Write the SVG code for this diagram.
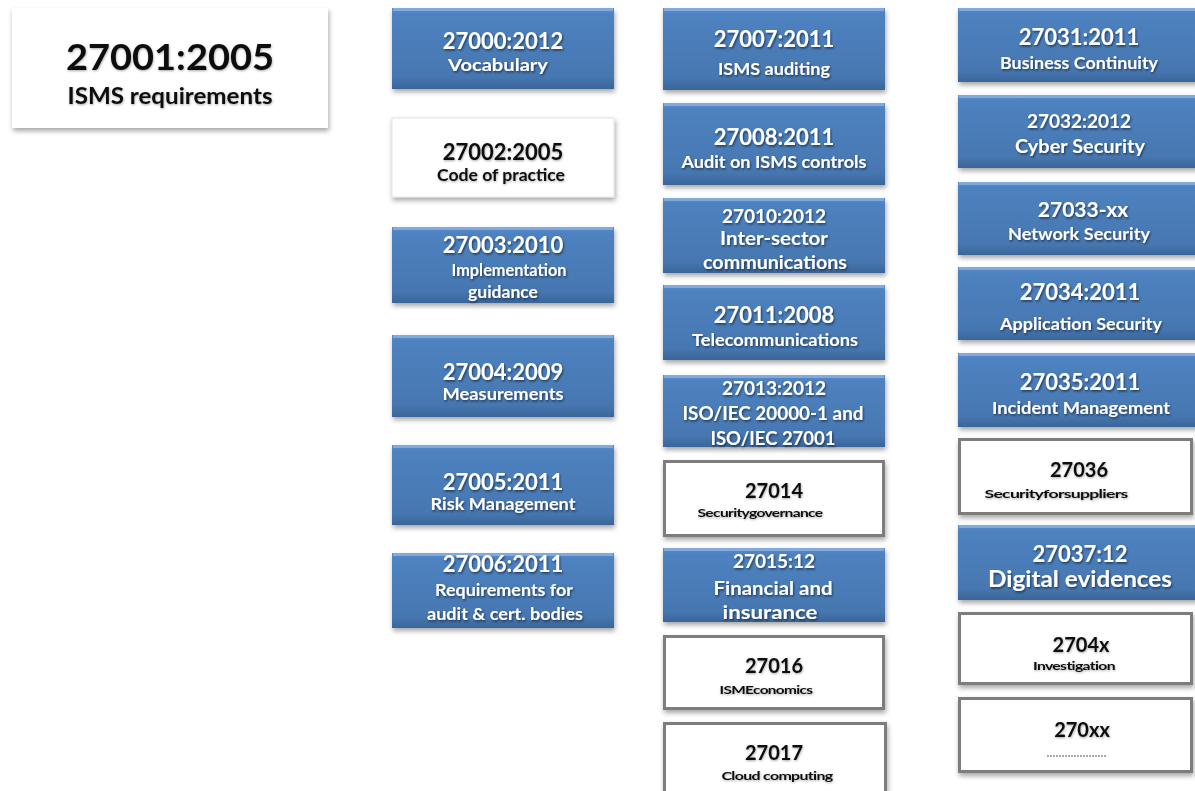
<svg xmlns="http://www.w3.org/2000/svg" width="1195" height="791" viewBox="0 0 1195 791">
<defs>
<linearGradient id="gb" x1="0" y1="0" x2="0" y2="1">
<stop offset="0" stop-color="#5a8dc8"/>
<stop offset="0.08" stop-color="#4e82c0"/>
<stop offset="0.85" stop-color="#4677b1"/>
<stop offset="1" stop-color="#3a6598"/>
</linearGradient>
<filter id="sh" x="-10%" y="-10%" width="125%" height="140%">
<feDropShadow dx="1" dy="3" stdDeviation="2.5" flood-color="#000" flood-opacity="0.35"/>
</filter>
<filter id="ts" x="-10%" y="-30%" width="120%" height="160%">
<feDropShadow dx="1" dy="1.5" stdDeviation="1" flood-color="#000" flood-opacity="0.55"/>
</filter>
<filter id="tsl" x="-10%" y="-30%" width="120%" height="160%">
<feDropShadow dx="0.5" dy="1" stdDeviation="0.8" flood-color="#000" flood-opacity="0.35"/>
</filter>
</defs>
<style>
text{font-family:Lato,"Liberation Sans",sans-serif;font-weight:700;text-anchor:middle}
.b{fill:url(#gb);filter:url(#sh)}
.hl{fill:#8db2df;opacity:0.8}
.w{fill:#fff;filter:url(#sh)}
.wb{fill:#fff;stroke:#7d7d7d;stroke-width:3;filter:url(#sh)}
.wl{fill:#fff;stroke:#e2e2e2;stroke-width:1;filter:url(#sh)}
.tw{fill:#fff;filter:url(#ts)}
.tk{fill:#111;filter:url(#tsl)}
.t22{font-size:22px}
.t19{font-size:19px}
.t20{font-size:20px}
.s16{font-size:17px}
.s17{font-size:17.5px}
.s18{font-size:18.5px}
.sm{font-size:12px;letter-spacing:-0.5px}
</style>
<rect width="1195" height="791" fill="#fff"/>

<g id="n27001">
<rect class="w" x="12" y="8" width="316" height="120"/>
<text class="tk" x="170" y="70" style="font-size:37px" textLength="208" lengthAdjust="spacingAndGlyphs">27001:2005</text>
<text class="tk" x="170" y="104" style="font-size:23px" textLength="205" lengthAdjust="spacingAndGlyphs">ISMS requirements</text>
</g>

<g id="n27000">
<rect class="b" x="392" y="8" width="222" height="81"/><rect class="hl" x="393" y="8" width="220" height="3"/>
<text class="tw t22" x="503" y="49">27000:2012</text>
<text class="tw s17" x="498" y="71" textLength="100" lengthAdjust="spacingAndGlyphs">Vocabulary</text>
</g>
<g id="n27002">
<rect class="wl" x="392" y="118" width="222" height="79"/>
<text class="tk t22" x="503" y="160">27002:2005</text>
<text class="tk s17" x="501" y="181" textLength="128" lengthAdjust="spacingAndGlyphs">Code of practice</text>
</g>
<g id="n27003">
<rect class="b" x="392" y="227" width="222" height="76"/><rect class="hl" x="393" y="227" width="220" height="3"/>
<text class="tw t22" x="503" y="253">27003:2010</text>
<text class="tw s17" x="509" y="276" textLength="115" lengthAdjust="spacingAndGlyphs">Implementation</text>
<text class="tw s17" x="503" y="298" textLength="70" lengthAdjust="spacingAndGlyphs">guidance</text>
</g>
<g id="n27004">
<rect class="b" x="392" y="335" width="222" height="82"/><rect class="hl" x="393" y="335" width="220" height="3"/>
<text class="tw t22" x="503" y="380">27004:2009</text>
<text class="tw s16" x="503" y="400" textLength="121" lengthAdjust="spacingAndGlyphs">Measurements</text>
</g>
<g id="n27005">
<rect class="b" x="392" y="445" width="222" height="80"/><rect class="hl" x="393" y="445" width="220" height="3"/>
<text class="tw t22" x="503" y="490">27005:2011</text>
<text class="tw s16" x="503" y="510" textLength="145" lengthAdjust="spacingAndGlyphs">Risk Management</text>
</g>
<g id="n27006">
<rect class="b" x="392" y="553" width="222" height="75"/><rect class="hl" x="393" y="553" width="220" height="3"/>
<text class="tw t22" x="503" y="572">27006:2011</text>
<text class="tw s16" x="504" y="596" textLength="138" lengthAdjust="spacingAndGlyphs">Requirements for</text>
<text class="tw s16" x="505" y="620" textLength="156" lengthAdjust="spacingAndGlyphs">audit &amp; cert. bodies</text>
</g>

<g id="n27007">
<rect class="b" x="663" y="8" width="222" height="82"/><rect class="hl" x="664" y="8" width="220" height="3"/>
<text class="tw t22" x="774" y="47">27007:2011</text>
<text class="tw s16" x="774" y="75" textLength="112" lengthAdjust="spacingAndGlyphs">ISMS auditing</text>
</g>
<g id="n27008">
<rect class="b" x="663" y="103" width="222" height="82"/><rect class="hl" x="664" y="103" width="220" height="3"/>
<text class="tw t22" x="774" y="145">27008:2011</text>
<text class="tw s16" x="774" y="168" textLength="185" lengthAdjust="spacingAndGlyphs">Audit on ISMS controls</text>
</g>
<g id="n27010">
<rect class="b" x="663" y="198" width="222" height="75"/><rect class="hl" x="664" y="198" width="220" height="3"/>
<text class="tw t19" x="774" y="223">27010:2012</text>
<text class="tw s18" x="774" y="245" textLength="108" lengthAdjust="spacingAndGlyphs">Inter-sector</text>
<text class="tw s18" x="775" y="269" textLength="144" lengthAdjust="spacingAndGlyphs">communications</text>
</g>
<g id="n27011">
<rect class="b" x="663" y="285" width="222" height="75"/><rect class="hl" x="664" y="285" width="220" height="3"/>
<text class="tw t22" x="774" y="323">27011:2008</text>
<text class="tw s16" x="775" y="346" textLength="166" lengthAdjust="spacingAndGlyphs">Telecommunications</text>
</g>
<g id="n27013">
<rect class="b" x="663" y="375" width="222" height="72"/><rect class="hl" x="664" y="375" width="220" height="3"/>
<text class="tw t19" x="774" y="395">27013:2012</text>
<text class="tw s18" x="773" y="420" textLength="181" lengthAdjust="spacingAndGlyphs">ISO/IEC 20000-1 and</text>
<text class="tw s18" x="773" y="445" textLength="125" lengthAdjust="spacingAndGlyphs">ISO/IEC 27001</text>
</g>
<g id="n27014">
<rect class="wb" x="664.5" y="461.5" width="219" height="74"/>
<text class="tk t20" x="774" y="498">27014</text>
<text class="tk sm" x="760" y="517" textLength="125" lengthAdjust="spacingAndGlyphs">Securitygovernance</text>
</g>
<g id="n27015">
<rect class="b" x="663" y="548" width="222" height="74"/><rect class="hl" x="664" y="548" width="220" height="3"/>
<text class="tw t19" x="774" y="568">27015:12</text>
<text class="tw s18" x="773" y="595" textLength="119" lengthAdjust="spacingAndGlyphs">Financial and</text>
<text class="tw s18" x="770" y="619" textLength="95" lengthAdjust="spacingAndGlyphs">insurance</text>
</g>
<g id="n27016">
<rect class="wb" x="664.5" y="636.5" width="219" height="72"/>
<text class="tk t20" x="774" y="673">27016</text>
<text class="tk sm" x="766" y="694" textLength="93" lengthAdjust="spacingAndGlyphs">ISMEconomics</text>
</g>
<g id="n27017">
<rect class="wb" x="664.5" y="723.5" width="221" height="80"/>
<text class="tk t20" x="774" y="760">27017</text>
<text class="tk sm" x="777" y="780" textLength="111" lengthAdjust="spacingAndGlyphs">Cloud computing</text>
</g>

<g id="n27031">
<rect class="b" x="958" y="8" width="242" height="74"/><rect class="hl" x="959" y="8" width="241" height="3"/>
<text class="tw t22" x="1079" y="45">27031:2011</text>
<text class="tw s16" x="1079" y="69" textLength="158" lengthAdjust="spacingAndGlyphs">Business Continuity</text>
</g>
<g id="n27032">
<rect class="b" x="958" y="95" width="242" height="73"/><rect class="hl" x="959" y="95" width="241" height="3"/>
<text class="tw t19" x="1079" y="128">27032:2012</text>
<text class="tw s18" x="1080" y="153" textLength="130" lengthAdjust="spacingAndGlyphs">Cyber Security</text>
</g>
<g id="n27033">
<rect class="b" x="958" y="182" width="242" height="73"/><rect class="hl" x="959" y="182" width="241" height="3"/>
<text class="tw" style="font-size:21px" x="1083" y="217">27033-xx</text>
<text class="tw s16" x="1079" y="240" textLength="142" lengthAdjust="spacingAndGlyphs">Network Security</text>
</g>
<g id="n27034">
<rect class="b" x="958" y="267" width="242" height="73"/><rect class="hl" x="959" y="267" width="241" height="3"/>
<text class="tw t22" x="1080" y="300">27034:2011</text>
<text class="tw s16" x="1081" y="330" textLength="162" lengthAdjust="spacingAndGlyphs">Application Security</text>
</g>
<g id="n27035">
<rect class="b" x="958" y="353" width="242" height="74"/><rect class="hl" x="959" y="353" width="241" height="3"/>
<text class="tw t22" x="1080" y="390">27035:2011</text>
<text class="tw s17" x="1081" y="414" textLength="178" lengthAdjust="spacingAndGlyphs">Incident Management</text>
</g>
<g id="n27036">
<rect class="wb" x="959.5" y="439.5" width="232" height="74"/>
<text class="tk t20" x="1079" y="477">27036</text>
<text class="tk sm" x="1056" y="498" textLength="143" lengthAdjust="spacingAndGlyphs">Securityforsuppliers</text>
</g>
<g id="n27037">
<rect class="b" x="958" y="525" width="242" height="75"/><rect class="hl" x="959" y="525" width="241" height="3"/>
<text class="tw t22" x="1080" y="562">27037:12</text>
<text class="tw" style="font-size:22px" x="1080" y="587" textLength="184" lengthAdjust="spacingAndGlyphs">Digital evidences</text>
</g>
<g id="n2704x">
<rect class="wb" x="959.5" y="613.5" width="232" height="70"/>
<text class="tk t20" x="1081" y="652">2704x</text>
<text class="tk sm" x="1074" y="670" textLength="82" lengthAdjust="spacingAndGlyphs">Investigation</text>
</g>
<g id="n270xx">
<rect class="wb" x="959.5" y="698.5" width="232" height="73"/>
<text class="tk t20" x="1082" y="737">270xx</text>
<line x1="1047" y1="756" x2="1107" y2="756" stroke="#555" stroke-width="1.2" stroke-dasharray="2 1"/>
</g>
</svg>
